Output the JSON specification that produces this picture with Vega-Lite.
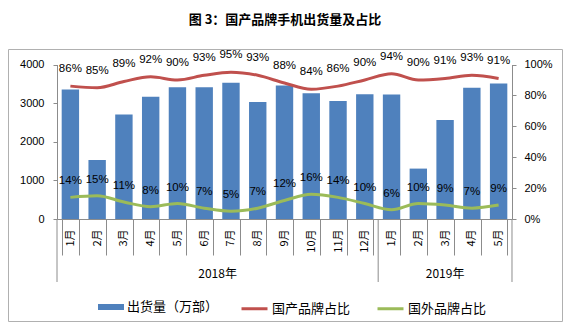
{
  "$schema": "https://vega.github.io/schema/vega-lite/v6.json",
  "width": 554,
  "height": 272,
  "autosize": {"type": "none"},
  "padding": {"left": 8, "top": 49, "right": 14, "bottom": 11},
  "background": "white",
  "title": {"text": "图 3：国产品牌手机出货量及占比", "font": "Noto Sans CJK SC", "fontSize": 13, "fontWeight": "bold", "color": "#000", "offset": 22, "anchor": "middle"},
  "config": {"view": {"stroke": "#b0b0b0", "strokeWidth": 1}},
  "datasets": {
    "main": [
      {"m": "2018-01", "ship": 3352, "dom": 0.86, "fgn": 0.14},
      {"m": "2018-02", "ship": 1529, "dom": 0.85, "fgn": 0.15},
      {"m": "2018-03", "ship": 2704, "dom": 0.89, "fgn": 0.11},
      {"m": "2018-04", "ship": 3162, "dom": 0.92, "fgn": 0.08},
      {"m": "2018-05", "ship": 3413, "dom": 0.90, "fgn": 0.10},
      {"m": "2018-06", "ship": 3413, "dom": 0.93, "fgn": 0.07},
      {"m": "2018-07", "ship": 3525, "dom": 0.95, "fgn": 0.05},
      {"m": "2018-08", "ship": 3032, "dom": 0.93, "fgn": 0.07},
      {"m": "2018-09", "ship": 3456, "dom": 0.88, "fgn": 0.12},
      {"m": "2018-10", "ship": 3257, "dom": 0.84, "fgn": 0.16},
      {"m": "2018-11", "ship": 3058, "dom": 0.86, "fgn": 0.14},
      {"m": "2018-12", "ship": 3231, "dom": 0.90, "fgn": 0.10},
      {"m": "2019-01", "ship": 3222, "dom": 0.94, "fgn": 0.06},
      {"m": "2019-02", "ship": 1305, "dom": 0.90, "fgn": 0.10},
      {"m": "2019-03", "ship": 2566, "dom": 0.91, "fgn": 0.09},
      {"m": "2019-04", "ship": 3395, "dom": 0.93, "fgn": 0.07},
      {"m": "2019-05", "ship": 3508, "dom": 0.91, "fgn": 0.09}
    ]
  },
  "layer": [
    {
      "layer": [
        {
          "data": {"name": "main"},
          "mark": {"type": "bar"},
          "encoding": {
            "x": {"field": "m", "type": "nominal", "title": null,
              "scale": {"range": [49, 504], "paddingInner": 0.35, "paddingOuter": 0.175},
              "axis": {"orient": "bottom", "offset": -102, "domain": true, "domainColor": "#8c8c8c", "grid": false, "tickBand": "extent", "tickSize": 36, "tickColor": "#8c8c8c", "tickWidth": 1,
                "labelAngle": 270, "labelAlign": "right", "labelBaseline": "middle", "labelPadding": -26, "labelOverlap": false,
                "labelExpr": "isString(datum.value) ? parseInt(substring(datum.value, 5)) + '月' : ''", "labelFont": "Noto Sans CJK SC", "labelFontSize": 11, "labelColor": "#000"}},
            "y": {"field": "ship", "type": "quantitative", "title": null,
              "scale": {"domain": [0, 4000], "range": [170, 15.5], "nice": false},
              "axis": {"orient": "left", "offset": -49, "values": [0, 500, 1000, 1500, 2000, 2500, 3000, 3500, 4000], "format": "d", "labelOverlap": false, "domain": true, "domainColor": "#8c8c8c", "grid": false, "tickSize": 4, "tickColor": "#8c8c8c", "labelPadding": 9, "labelFont": "Liberation Sans", "labelFontSize": 11, "labelColor": "#000"}},
            "y2": {"datum": 0},
            "fill": {"datum": "出货量（万部）",
              "scale": {"domain": ["出货量（万部）"], "range": ["#4F81BD"]},
              "legend": {"title": null, "orient": "none", "legendX": 90, "legendY": 245, "direction": "horizontal", "symbolType": "M-1,-0.23L1,-0.23L1,0.23L-1,0.23Z", "symbolSize": 676, "symbolStrokeWidth": 0, "labelOffset": 3, "labelFont": "Noto Sans CJK SC", "labelFontSize": 13, "labelColor": "#000", "padding": 0}}
          }
        },
        {
          "data": {"values": [{"m": "2018-01"}, {"m": "2019-01"}]},
          "mark": {"type": "rule", "color": "#8c8c8c", "strokeWidth": 1, "xOffset": -4.68},
          "encoding": {
            "x": {"field": "m", "type": "nominal", "bandPosition": 0, "title": null},
            "y": {"datum": 0, "title": null},
            "y2": {"datum": -1631}
          }
        },
        {
          "data": {"values": [{"m": "2019-05"}]},
          "mark": {"type": "rule", "color": "#8c8c8c", "strokeWidth": 1, "xOffset": 4.68},
          "encoding": {
            "x": {"field": "m", "type": "nominal", "bandPosition": 1, "title": null},
            "y": {"datum": 0, "title": null},
            "y2": {"datum": -1631}
          }
        },
        {
          "data": {"values": [{"m": "2018-07", "label": "2018年"}]},
          "mark": {"type": "text", "dy": 55, "dx": -4.68, "font": "Noto Sans CJK SC", "fontSize": 12, "color": "#000", "baseline": "middle", "align": "center"},
          "encoding": {
            "x": {"field": "m", "type": "nominal", "bandPosition": 0, "title": null},
            "y": {"datum": 0, "title": null},
            "text": {"field": "label"}
          }
        },
        {
          "data": {"values": [{"m": "2019-03", "label": "2019年"}]},
          "mark": {"type": "text", "dy": 55, "font": "Noto Sans CJK SC", "fontSize": 12, "color": "#000", "baseline": "middle", "align": "center"},
          "encoding": {
            "x": {"field": "m", "type": "nominal", "title": null},
            "y": {"datum": 0, "title": null},
            "text": {"field": "label"}
          }
        }
      ]
    },
    {
      "data": {"name": "main"},
      "layer": [
        {
          "mark": {"type": "line", "interpolate": "monotone", "strokeWidth": 3},
          "encoding": {
            "x": {"field": "m", "type": "nominal", "title": null},
            "y": {"field": "dom", "type": "quantitative", "title": null,
              "scale": {"domain": [0, 1], "range": [170, 15.5], "nice": false},
              "axis": {"orient": "right", "offset": -50, "values": [0, 0.1, 0.2, 0.3, 0.4, 0.5, 0.6, 0.7, 0.8, 0.9, 1], "format": ".0%", "labelOverlap": false, "domain": true, "domainColor": "#8c8c8c", "grid": false, "tickSize": 4, "tickColor": "#8c8c8c", "labelPadding": 8, "labelFont": "Liberation Sans", "labelFontSize": 11, "labelColor": "#000"}},
            "stroke": {"datum": "国产品牌占比",
              "scale": {"domain": ["国产品牌占比", "国外品牌占比"], "range": ["#C0504D", "#9BBB59"]},
              "legend": {"title": null, "orient": "none", "legendX": 232, "legendY": 245, "direction": "horizontal", "columns": 2, "columnPadding": 20, "symbolType": "stroke", "symbolSize": 676, "symbolStrokeWidth": 3, "labelOffset": 3, "labelFont": "Noto Sans CJK SC", "labelFontSize": 13, "labelColor": "#000", "padding": 0}}
          }
        },
        {
          "mark": {"type": "line", "interpolate": "monotone", "strokeWidth": 3},
          "encoding": {
            "x": {"field": "m", "type": "nominal", "title": null},
            "y": {"field": "fgn", "type": "quantitative", "title": null},
            "stroke": {"datum": "国外品牌占比"}
          }
        },
        {
          "mark": {"type": "text", "dy": -17, "font": "Liberation Sans", "fontSize": 11.5, "color": "#000", "baseline": "middle"},
          "encoding": {
            "x": {"field": "m", "type": "nominal", "title": null},
            "y": {"field": "dom", "type": "quantitative", "title": null},
            "text": {"field": "dom", "type": "quantitative", "format": ".0%"}
          }
        },
        {
          "mark": {"type": "text", "dy": -16, "font": "Liberation Sans", "fontSize": 11.5, "color": "#000", "baseline": "middle"},
          "encoding": {
            "x": {"field": "m", "type": "nominal", "title": null},
            "y": {"field": "fgn", "type": "quantitative", "title": null},
            "text": {"field": "fgn", "type": "quantitative", "format": ".0%"}
          }
        }
      ]
    }
  ],
  "resolve": {"scale": {"y": "independent"}, "axis": {"y": "independent"}}
}
